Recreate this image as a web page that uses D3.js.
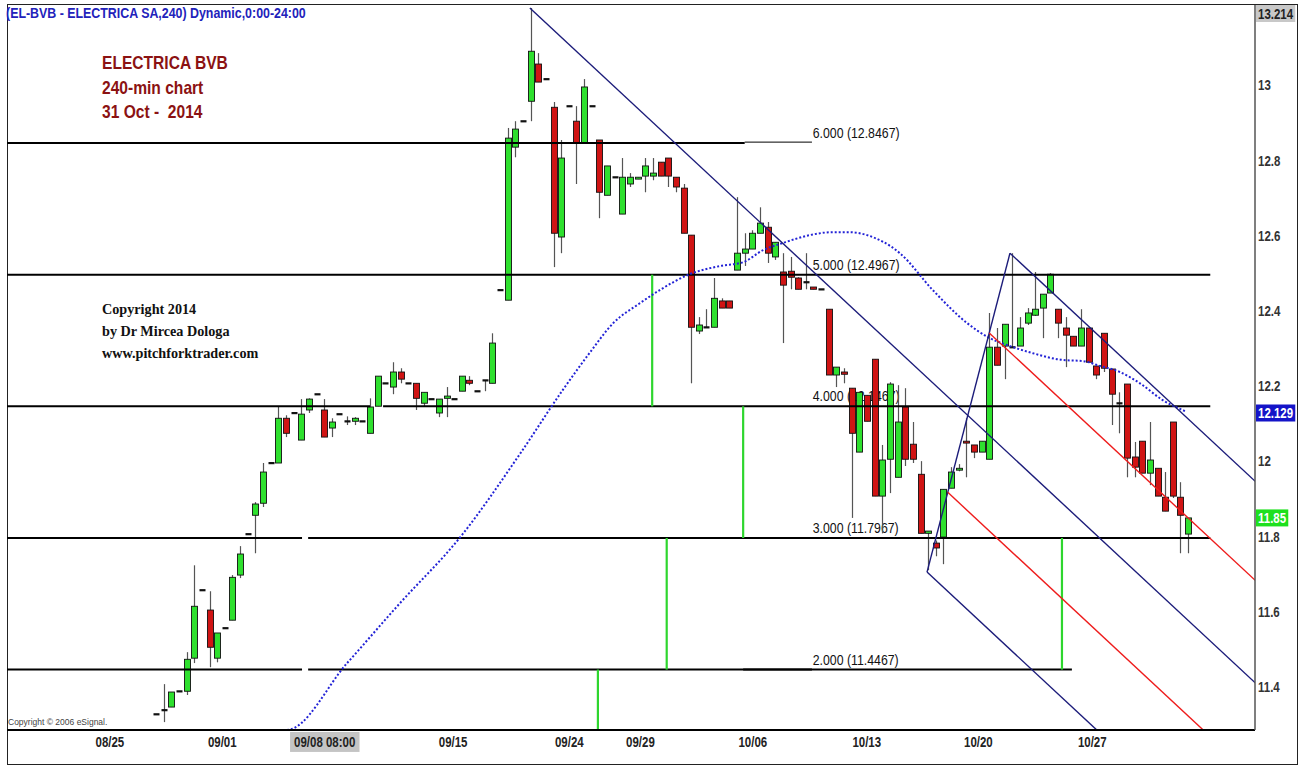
<!DOCTYPE html>
<html>
<head>
<meta charset="utf-8">
<script src="https://cdn.jsdelivr.net/npm/d3@7"></script>
<style>
body { margin: 0; background: #fff; }
svg { display: block; }
.narrow { font-family: "Liberation Sans", Arial, sans-serif; }
.serif { font-family: "Liberation Serif", "Times New Roman", serif; font-weight: bold; }
</style>
</head>
<body>
<svg id="chart" width="1308" height="767"></svg>
<script>
// 240-min bars, [open, high, low, close], bar 0 = first visible bar
const candles = [
  [11.328,11.328,11.328,11.328],[11.339,11.408,11.307,11.339],[11.347,11.387,11.347,11.387],[11.389,11.389,11.389,11.389],
  [11.389,11.493,11.379,11.474],[11.477,11.724,11.464,11.615],[11.658,11.658,11.658,11.658],[11.605,11.655,11.453,11.506],
  [11.477,11.544,11.466,11.544],[11.557,11.557,11.557,11.557],[11.578,11.698,11.578,11.692],[11.698,11.775,11.690,11.754],
  [11.807,11.807,11.807,11.807],[11.857,11.892,11.756,11.887],[11.889,11.996,11.879,11.972],[11.996,11.996,11.996,11.996],
  [11.996,12.145,11.996,12.115],[12.115,12.123,12.065,12.075],[12.129,12.129,12.129,12.129],[12.057,12.166,12.057,12.126],
  [12.137,12.168,12.129,12.166],[12.179,12.179,12.179,12.179],[12.137,12.166,12.065,12.065],[12.089,12.115,12.065,12.105],
  [12.126,12.126,12.126,12.126],[12.107,12.120,12.097,12.107],[12.107,12.118,12.097,12.115],[12.107,12.107,12.107,12.107],
  [12.075,12.168,12.075,12.145],[12.147,12.227,12.147,12.227],[12.208,12.208,12.208,12.208],[12.198,12.264,12.179,12.238],
  [12.238,12.248,12.208,12.219],[12.208,12.208,12.208,12.208],[12.208,12.208,12.137,12.168],[12.155,12.184,12.147,12.184],
  [12.166,12.166,12.166,12.166],[12.129,12.166,12.118,12.166],[12.168,12.198,12.118,12.174],[12.166,12.166,12.166,12.166],
  [12.187,12.227,12.187,12.227],[12.216,12.227,12.203,12.208],[12.187,12.187,12.187,12.187],[12.216,12.216,12.187,12.216],
  [12.208,12.341,12.208,12.315],[12.456,12.456,12.456,12.456],[12.429,12.887,12.429,12.860],[12.836,12.905,12.809,12.884],
  [12.905,12.905,12.905,12.905],[12.958,13.206,12.905,13.091],[13.057,13.086,13.009,13.009],[13.017,13.017,13.017,13.017],
  [12.942,12.956,12.517,12.607],[12.597,12.855,12.554,12.807],[12.945,12.945,12.945,12.945],[12.905,12.945,12.738,12.847],
  [12.847,13.017,12.847,12.996],[12.945,12.945,12.945,12.945],[12.855,12.855,12.647,12.716],[12.708,12.786,12.708,12.786],
  [12.756,12.756,12.756,12.756],[12.658,12.807,12.658,12.756],[12.738,12.767,12.730,12.756],[12.751,12.756,12.751,12.756],
  [12.759,12.807,12.716,12.786],[12.759,12.807,12.748,12.767],[12.796,12.796,12.759,12.759],[12.807,12.807,12.730,12.759],
  [12.756,12.756,12.716,12.730],[12.727,12.738,12.607,12.607],[12.602,12.602,12.208,12.357],[12.347,12.384,12.339,12.363],
  [12.357,12.405,12.355,12.357],[12.357,12.488,12.357,12.434],[12.427,12.434,12.408,12.408],[12.427,12.427,12.408,12.408],
  [12.509,12.703,12.509,12.554],[12.554,12.607,12.520,12.565],[12.565,12.615,12.565,12.607],[12.607,12.676,12.607,12.634],
  [12.623,12.637,12.528,12.554],[12.544,12.583,12.536,12.583],[12.504,12.554,12.315,12.469],[12.506,12.544,12.458,12.490],
  [12.488,12.490,12.458,12.458],[12.477,12.554,12.458,12.477],[12.464,12.464,12.458,12.458],[12.458,12.458,12.458,12.458],
  [12.405,12.405,12.230,12.230],[12.230,12.251,12.198,12.251],[12.238,12.248,12.208,12.232],[12.195,12.195,11.850,12.075],
  [12.025,12.184,12.025,12.184],[12.176,12.176,12.107,12.107],[12.272,12.272,11.908,11.908],[11.908,12.044,11.809,12.004],
  [12.006,12.211,11.916,12.206],[11.958,12.203,11.958,12.105],[12.145,12.195,11.988,12.006],[12.046,12.105,11.996,12.006],
  [11.966,12.001,11.809,11.809],[11.809,11.815,11.711,11.815],[11.783,11.790,11.748,11.770],[11.799,11.926,11.727,11.926],
  [11.929,11.985,11.929,11.972],[11.977,11.993,11.974,11.982],[12.054,12.115,11.958,12.049],[12.044,12.044,12.009,12.025],
  [12.025,12.054,12.025,12.054],[12.006,12.395,12.006,12.304],[12.304,12.355,12.256,12.256],[12.307,12.365,12.219,12.365],
  [12.304,12.554,12.304,12.304],[12.307,12.384,12.307,12.355],[12.368,12.408,12.363,12.395],[12.389,12.504,12.387,12.405],
  [12.408,12.445,12.328,12.445],[12.448,12.501,12.448,12.498],[12.405,12.405,12.328,12.368],[12.355,12.384,12.251,12.336],
  [12.333,12.333,12.307,12.307],[12.307,12.405,12.307,12.355],[12.355,12.355,12.264,12.264],[12.254,12.254,12.219,12.230],
  [12.341,12.341,12.238,12.248],[12.246,12.246,12.097,12.179],[12.155,12.184,12.075,12.155],[12.206,12.206,11.958,12.009],
  [12.012,12.052,11.958,11.985],[12.054,12.054,11.969,11.969],[11.969,12.105,11.937,12.004],[11.982,11.982,11.908,11.908],
  [11.905,11.972,11.868,11.868],[12.105,12.105,11.903,11.908],[11.905,11.945,11.756,11.857],[11.807,11.850,11.756,11.850]
];

// moving average (blue dotted), read at these bar positions
const maBars   = [-19.5, 17.1, 25.0, 31.9, 39.8, 47.6, 53.2, 56.8, 59.8, 63.3, 65.9, 69.8, 73.8, 76.8, 79.4, 82.0, 85.5,
                  88.6, 90.8, 93.0, 97.3, 101.6, 106.1, 108.8, 111.7, 114.7, 118.6, 121.3, 123.5, 126.1, 128.7, 131.7, 134.6];
const maValues = [11.286, 11.286, 11.464, 11.623, 11.799, 12.020, 12.190, 12.291, 12.368, 12.421, 12.456, 12.498, 12.520, 12.530,
                  12.562, 12.581, 12.602, 12.610, 12.610, 12.602, 12.554, 12.456, 12.368, 12.331, 12.307, 12.288, 12.270, 12.267,
                  12.254, 12.238, 12.208, 12.163, 12.134];

const priceTicks = [11.4, 11.6, 11.8, 12, 12.2, 12.4, 12.6, 12.8, 13];
const dateLabels = ["08/25", "09/01", "09/08 08:00", "09/15", "09/24", "09/29", "10/06", "10/13", "10/20", "10/27"];
const dateBars   = [-6.1, 8.6, 22.0, 38.8, 54.0, 63.3, 78.0, 92.9, 107.5, 122.4];

// expansion levels
const levels     = [12.8467, 12.4967, 12.1467, 11.7967, 11.4467];
const levelNames = ["6.000", "5.000", "4.000", "3.000", "2.000"];
// [level index, from bar, to bar]
const levelSegments = [[0, -19.5, 77.0], [1, -19.5, 137.9], [2, -19.5, 28.0], [2, 29.7, 137.9],
                       [3, -19.5, 19.1], [3, 19.9, 137.9], [4, -19.5, 19.1], [4, 19.9, 119.8], [4, 76.8, 85.8]];
const thinSegments  = [[0, 77.0, 85.8]];
const labelBar = 85.9;

// green time markers [bar, from price, to price]
const greenMarks = [[57.8, 11.286, 11.4467], [64.9, 12.4967, 12.1467], [66.8, 11.7967, 11.4467],
                    [76.8, 12.1467, 11.7967], [118.5, 11.7967, 11.4467]];

// trend line and pitchfork pivots [bar, price]
const trendStart = [48.9, 13.206];
const trendEnd   = [143.75, 11.412];
const pivotA = [100.85, 11.706];
const pivotB = [111.7, 12.554];

const highValue = 13.214, maLast = 12.129, lastClose = 11.85;

const svg = d3.select("#chart");
const W = 1308, H = 767;
const plotLeft = 7, plotRight = 1255, plotTop = 5, plotBottom = 730;

const x = d3.scaleLinear().domain([-19.49, 143.75]).range([plotLeft, plotRight]);
const y = d3.scaleLinear().domain([11.286, 13.214]).range([plotBottom, plotTop]);

// squeeze a text to a narrow face
function condense(sel, k = 0.82) {
  sel.each(function () {
    const w = this.getComputedTextLength();
    d3.select(this).attr("textLength", w * k).attr("lengthAdjust", "spacingAndGlyphs");
  });
}

svg.append("rect").attr("width", W).attr("height", H).attr("fill", "#fff");

svg.append("clipPath").attr("id", "plot")
  .append("rect").attr("x", plotLeft).attr("y", plotTop)
  .attr("width", plotRight - plotLeft).attr("height", plotBottom - plotTop);

// outer frame
svg.append("rect").attr("x", 7.5).attr("y", 4.5).attr("width", 1290).attr("height", 760)
  .attr("fill", "none").attr("stroke", "#222").attr("stroke-width", 1);

const plot = svg.append("g").attr("clip-path", "url(#plot)");

// level labels (behind candles)
plot.selectAll(".lvlLabel")
  .data(levels)
  .join("text")
  .attr("class", "narrow")
  .attr("x", x(labelBar))
  .attr("y", d => y(d) - 5)
  .attr("font-size", 15)
  .attr("fill", "#111")
  .text((d, i) => `${levelNames[i]} (${d})`);

// candles
const bw = 6;
const cg = plot.append("g");
candles.forEach((c, i) => {
  const [o, h, l, cl] = c;
  const cx = Math.round(x(i)) + 0.5;
  if (h > l) {
    cg.append("line").attr("x1", cx).attr("x2", cx).attr("y1", y(h)).attr("y2", y(l))
      .attr("stroke", "#555").attr("stroke-width", 1.2);
  }
  if (Math.abs(o - cl) < 0.004) {
    cg.append("rect").attr("x", cx - 3).attr("y", y(o) - 1).attr("width", bw).attr("height", 2.2).attr("fill", "#111");
  } else {
    const up = cl > o;
    cg.append("rect")
      .attr("x", cx - 3).attr("y", y(Math.max(o, cl)))
      .attr("width", bw).attr("height", Math.abs(y(o) - y(cl)))
      .attr("fill", up ? "#2ee02e" : "#d01414")
      .attr("stroke", "#111").attr("stroke-width", 0.9);
  }
});

// level lines
plot.selectAll(".lvl")
  .data(levelSegments)
  .join("line")
  .attr("x1", d => x(d[1])).attr("x2", d => x(d[2]))
  .attr("y1", d => y(levels[d[0]])).attr("y2", d => y(levels[d[0]]))
  .attr("stroke", "#000").attr("stroke-width", 2);

plot.selectAll(".lvlThin")
  .data(thinSegments)
  .join("line")
  .attr("x1", d => x(d[1])).attr("x2", d => x(d[2]))
  .attr("y1", d => y(levels[d[0]]) - 1).attr("y2", d => y(levels[d[0]]) - 1)
  .attr("stroke", "#000").attr("stroke-width", 1);

// green verticals
plot.selectAll(".gm")
  .data(greenMarks)
  .join("line")
  .attr("x1", d => x(d[0])).attr("x2", d => x(d[0]))
  .attr("y1", d => y(d[1])).attr("y2", d => y(d[2]))
  .attr("stroke", "#2ed62e").attr("stroke-width", 2.2);

// moving average
const maLine = d3.line().x(d => x(d[0])).y(d => y(d[1])).curve(d3.curveMonotoneX);
plot.append("path")
  .datum(maBars.map((b, i) => [b, maValues[i]]))
  .attr("d", maLine)
  .attr("fill", "none")
  .attr("stroke", "#2323d6")
  .attr("stroke-width", 2)
  .attr("stroke-dasharray", "2,2");

// trend line + pitchfork
const slope = (trendEnd[1] - trendStart[1]) / (trendEnd[0] - trendStart[0]);
const farBar = 160;
const along = (p, b) => [b, p[1] + slope * (b - p[0])];
const onAB = t => [pivotA[0] + t * (pivotB[0] - pivotA[0]), pivotA[1] + t * (pivotB[1] - pivotA[1])];

const navyLines = [
  [trendStart, along(trendStart, farBar)],
  [pivotA, pivotB],
  [pivotB, along(pivotB, farBar)],
  [pivotA, along(pivotA, farBar)]
];
const redLines = [
  [onAB(0.75), along(onAB(0.75), farBar)],
  [onAB(0.25), along(onAB(0.25), farBar)]
];

plot.selectAll(".navy")
  .data(navyLines)
  .join("line")
  .attr("x1", d => x(d[0][0])).attr("y1", d => y(d[0][1]))
  .attr("x2", d => x(d[1][0])).attr("y2", d => y(d[1][1]))
  .attr("stroke", "#1c1c7a").attr("stroke-width", 1.4);

plot.selectAll(".red")
  .data(redLines)
  .join("line")
  .attr("x1", d => x(d[0][0])).attr("y1", d => y(d[0][1]))
  .attr("x2", d => x(d[1][0])).attr("y2", d => y(d[1][1]))
  .attr("stroke", "#ee1c1c").attr("stroke-width", 1.4);

// axes frame
svg.append("line").attr("x1", plotLeft).attr("x2", plotRight).attr("y1", plotBottom).attr("y2", plotBottom)
  .attr("stroke", "#000").attr("stroke-width", 2);
svg.append("line").attr("x1", plotRight).attr("x2", plotRight).attr("y1", plotTop).attr("y2", plotBottom)
  .attr("stroke", "#555").attr("stroke-width", 1.5);

// y axis
const yAxis = d3.axisRight(y).tickValues(priceTicks).tickSize(0).tickPadding(3).tickFormat(d => d);
const yg = svg.append("g").attr("transform", `translate(${plotRight},0)`).call(yAxis);
yg.select(".domain").remove();
yg.selectAll("text").attr("class", "narrow").attr("font-size", 14).attr("font-weight", "bold")
  .attr("font-family", null).attr("fill", "#333");

// x axis
const xAxis = d3.axisBottom(x).tickValues(dateBars).tickSize(0).tickPadding(7).tickFormat((d, i) => dateLabels[i]);
const xg = svg.append("g").attr("transform", `translate(0,${plotBottom})`).call(xAxis);
xg.select(".domain").remove();
xg.selectAll("text").attr("class", "narrow").attr("font-size", 14).attr("font-weight", "bold")
  .attr("font-family", null).attr("fill", "#222");

// header and notes
const header = svg.append("text").attr("x", 6).attr("y", 18)
  .attr("font-family", "Liberation Sans, Arial, sans-serif")
  .attr("font-size", 14).attr("font-weight", "bold").attr("fill", "#2222bb")
  .text("(EL-BVB - ELECTRICA SA,240) Dynamic,0:00-24:00");
condense(header, 0.885);

const noteLines = ["ELECTRICA BVB", "240-min chart", "31 Oct -  2014"];
svg.selectAll(".note")
  .data(noteLines)
  .join("text")
  .attr("class", "narrow")
  .attr("x", 102).attr("y", (d, i) => 69 + i * 24.5)
  .attr("font-size", 19).attr("font-weight", "bold").attr("fill", "#8b1212")
  .style("white-space", "pre")
  .text(d => d);

const copyLines = ["Copyright 2014", "by Dr Mircea Dologa", "www.pitchforktrader.com"];
svg.selectAll(".copy")
  .data(copyLines)
  .join("text")
  .attr("class", "serif")
  .attr("x", 102).attr("y", (d, i) => 314 + i * 22)
  .attr("font-size", 14.2).attr("fill", "#111")
  .text(d => d);

svg.append("text").attr("x", 8).attr("y", 725)
  .attr("font-family", "Liberation Sans, Arial, sans-serif")
  .attr("font-size", 8.5).attr("fill", "#444")
  .text("Copyright © 2006 eSignal.");

condense(svg.selectAll("text.narrow"));

// grey box behind the cursor date
xg.selectAll(".tick").filter((d, i) => dateLabels[i].includes(":")).each(function () {
  const bb = d3.select(this).select("text").node().getBBox();
  d3.select(this).insert("rect", "text")
    .attr("x", bb.x - 4).attr("y", bb.y - 2).attr("width", bb.width + 8).attr("height", bb.height + 4)
    .attr("fill", "#c4c4c4");
});

// price boxes on the right axis
const boxes = [
  {v: highValue, text: "13.214", fill: "#c8c8c8", color: "#222"},
  {v: maLast, text: "12.129", fill: "#1414c8", color: "#fff"},
  {v: lastClose, text: "11.85", fill: "#1ee01e", color: "#fff"}
];
boxes.forEach(b => {
  const cy = Math.max(y(b.v), 13.5);
  const g = svg.append("g");
  const t = g.append("text").attr("class", "narrow").attr("x", plotRight + 3).attr("y", cy + 5)
    .attr("font-size", 14).attr("font-weight", "bold").attr("fill", b.color).text(b.text);
  condense(t);
  const bb = t.node().getBBox();
  g.insert("rect", "text").attr("x", plotRight + 1).attr("y", cy - 8.5).attr("width", bb.width + 4).attr("height", 17)
    .attr("fill", b.fill);
});
</script>
</body>
</html>
